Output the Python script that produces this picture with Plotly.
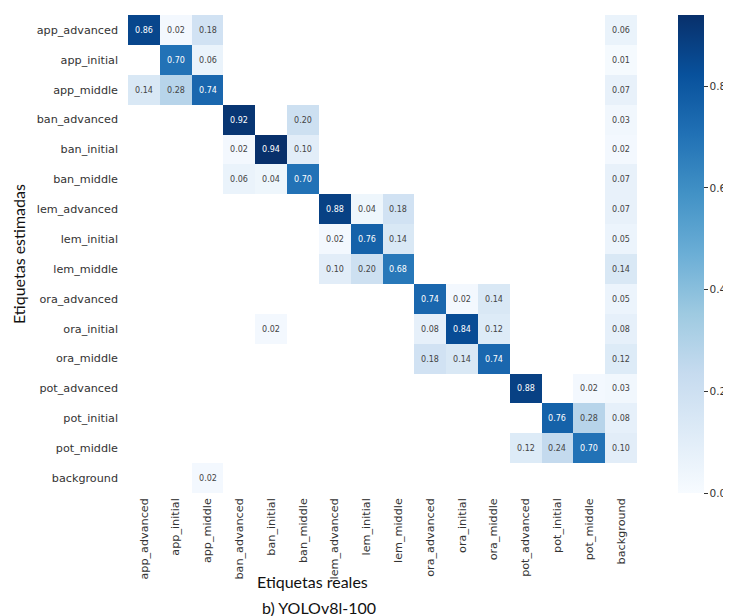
import plotly.graph_objects as go

labels = ["app_advanced", "app_initial", "app_middle", "ban_advanced", "ban_initial",
          "ban_middle", "lem_advanced", "lem_initial", "lem_middle", "ora_advanced",
          "ora_initial", "ora_middle", "pot_advanced", "pot_initial", "pot_middle",
          "background"]

# rows = predicted (Etiquetas estimadas), columns = true (Etiquetas reales); None = blank
N = None
row_app_advanced = [0.86, 0.02, 0.18, N, N, N, N, N, N, N, N, N, N, N, N, 0.06]
row_app_initial  = [N, 0.70, 0.06, N, N, N, N, N, N, N, N, N, N, N, N, 0.01]
row_app_middle   = [0.14, 0.28, 0.74, N, N, N, N, N, N, N, N, N, N, N, N, 0.07]
row_ban_advanced = [N, N, N, 0.92, N, 0.20, N, N, N, N, N, N, N, N, N, 0.03]
row_ban_initial  = [N, N, N, 0.02, 0.94, 0.10, N, N, N, N, N, N, N, N, N, 0.02]
row_ban_middle   = [N, N, N, 0.06, 0.04, 0.70, N, N, N, N, N, N, N, N, N, 0.07]
row_lem_advanced = [N, N, N, N, N, N, 0.88, 0.04, 0.18, N, N, N, N, N, N, 0.07]
row_lem_initial  = [N, N, N, N, N, N, 0.02, 0.76, 0.14, N, N, N, N, N, N, 0.05]
row_lem_middle   = [N, N, N, N, N, N, 0.10, 0.20, 0.68, N, N, N, N, N, N, 0.14]
row_ora_advanced = [N, N, N, N, N, N, N, N, N, 0.74, 0.02, 0.14, N, N, N, 0.05]
row_ora_initial  = [N, N, N, N, 0.02, N, N, N, N, 0.08, 0.84, 0.12, N, N, N, 0.08]
row_ora_middle   = [N, N, N, N, N, N, N, N, N, 0.18, 0.14, 0.74, N, N, N, 0.12]
row_pot_advanced = [N, N, N, N, N, N, N, N, N, N, N, N, 0.88, N, 0.02, 0.03]
row_pot_initial  = [N, N, N, N, N, N, N, N, N, N, N, N, N, 0.76, 0.28, 0.08]
row_pot_middle   = [N, N, N, N, N, N, N, N, N, N, N, N, 0.12, 0.24, 0.70, 0.10]
row_background   = [N, N, 0.02, N, N, N, N, N, N, N, N, N, N, N, N, N]

z = [row_app_advanced, row_app_initial, row_app_middle, row_ban_advanced,
     row_ban_initial, row_ban_middle, row_lem_advanced, row_lem_initial,
     row_lem_middle, row_ora_advanced, row_ora_initial, row_ora_middle,
     row_pot_advanced, row_pot_initial, row_pot_middle, row_background]

text = [["" if v is None else f"{v:.2f}" for v in row] for row in z]

blues = ["#f7fbff", "#deebf7", "#c6dbef", "#9ecae1", "#6baed6",
         "#4292c6", "#2171b5", "#08519c", "#08306b"]
colorscale = [[i / (len(blues) - 1), c] for i, c in enumerate(blues)]

fig = go.Figure(go.Heatmap(
    z=z, x=labels, y=labels, text=text, texttemplate="%{text}",
    textfont=dict(size=8, family="DejaVu Sans"),
    colorscale=colorscale, zmin=0, zmax=0.94, xgap=0, ygap=0,
    hoverongaps=False,
    colorbar=dict(
        x=1.0806, xanchor="left", xref="paper", y=0.5, yanchor="middle", len=1.0,
        lenmode="fraction", thickness=26, outlinewidth=0, xpad=0, ypad=0,
        tickvals=[0, 0.2, 0.4, 0.6, 0.8], ticktext=["0.0", "0.2", "0.4", "0.6", "0.8"],
        ticks="outside", ticklen=4, tickwidth=1, tickcolor="#333",
        tickfont=dict(size=10.5, family="DejaVu Sans", color="#333"),
    ),
))

# the page body adds an 8px offset, so the figure is 8px smaller and margins shifted
fig.update_layout(
    width=723, height=608,
    margin=dict(l=120, r=94, t=7, b=123, autoexpand=False),
    paper_bgcolor="white", plot_bgcolor="white",
    font=dict(family="DejaVu Sans", color="#333"),
    annotations=[
        dict(text="Etiquetas estimadas", xref="paper", yref="paper", x=-0.216, y=0.5,
             textangle=-90, showarrow=False, font=dict(family="Lato", size=16, color="#111"),
             xanchor="center", yanchor="middle"),
        dict(text="Etiquetas reales", xref="paper", yref="paper", x=0.363, y=-0.185,
             showarrow=False, font=dict(family="Lato", size=16, color="#111"),
             xanchor="center", yanchor="middle"),
        dict(text="b) YOLOv8l-100", xref="paper", yref="paper", x=0.375, y=-0.24,
             showarrow=False, font=dict(family="Lato", size=16, color="#111"),
             xanchor="center", yanchor="middle"),
    ],
)
fig.update_xaxes(tickangle=-90, tickfont=dict(size=11.2, color="#333"), showgrid=False,
                 zeroline=False, showline=False, ticks="", automargin=False,
                 ticklabelstandoff=2)
fig.update_yaxes(autorange="reversed", tickfont=dict(size=11.2, color="#333"), showgrid=False,
                 zeroline=False, showline=False, ticks="", ticklabelstandoff=9,
                 automargin=False)

fig.write_html("out.html")
